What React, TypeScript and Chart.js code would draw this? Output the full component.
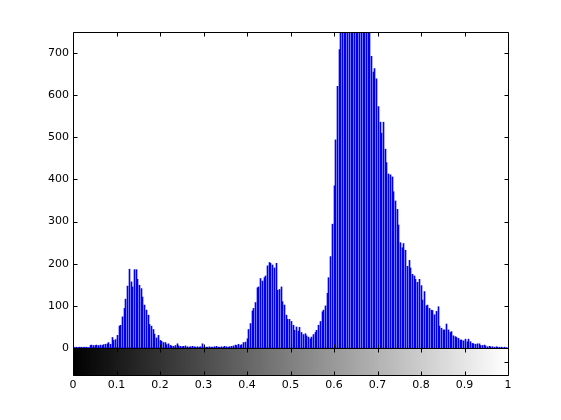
import { useEffect, useRef } from 'react';
import { Chart, registerables } from 'chart.js';

Chart.register(...registerables);

// 256 histogram bins (intensity 0..1), pixel counts
const pixelCounts: number[] = [
  // bins 0-9
  2, 1, 2, 1, 2, 2, 1, 2, 2, 1,
  // bins 10-22
  6, 7, 6, 6, 7, 6, 7, 6, 8, 9, 10, 13, 9,
  // bins 23-57 (first peak)
  25, 18, 20, 30, 52, 54, 74, 94, 116, 147, 187, 157, 145, 186, 186, 163, 149, 141,
  121, 102, 90, 78, 56, 52, 44, 33, 24, 30, 18, 16, 13, 13, 8, 10, 6,
  // bins 58-71
  5, 4, 6, 10, 5, 4, 3, 4, 5, 3, 2, 3, 4, 3,
  // bins 72-97
  2, 3, 2, 3, 10, 3, 2, 2, 3, 2, 2, 3, 4, 2, 2, 3, 2, 4, 3, 2, 3, 4, 5, 7, 6, 9,
  // bins 98-151 (second peak)
  6, 8, 13, 14, 22, 44, 58, 88, 94, 108, 143, 145, 165, 159, 167, 171, 195, 203,
  201, 197, 190, 201, 137, 139, 145, 110, 102, 78, 68, 68, 63, 54, 42, 50, 40, 49,
  37, 32, 34, 29, 26, 22, 26, 32, 37, 42, 54, 63, 86, 90, 100, 130, 167, 217,
  // bins 152-156
  294, 385, 494, 621, 708,
  // bins 157-174 (above the axis limit)
  800, 850, 900, 880, 920, 960, 940, 1000, 980, 950, 970, 930, 900, 910, 860, 840, 820, 780,
  // bins 175-200
  692, 655, 663, 639, 573, 536, 510, 536, 472, 440, 413, 411, 406, 371, 349, 329,
  292, 250, 238, 248, 232, 194, 208, 190, 175, 171,
  // bins 201-251
  163, 156, 163, 148, 114, 134, 100, 102, 94, 90, 89, 79, 87, 98, 52, 47, 43, 43,
  57, 43, 37, 39, 29, 27, 25, 23, 19, 19, 17, 21, 15, 21, 15, 11, 10, 9, 10, 10,
  6, 6, 7, 5, 3, 4, 3, 3, 2, 3, 2, 2, 2,
  // bins 252-255
  1, 2, 1, 1,
];

const xTickValues: number[] = [0, 0.1, 0.2, 0.3, 0.4, 0.5, 0.6, 0.7, 0.8, 0.9, 1];
const xTickLabels: string[] = ['0', '0.1', '0.2', '0.3', '0.4', '0.5', '0.6', '0.7', '0.8', '0.9', '1'];
const yTickValues: number[] = [0, 100, 200, 300, 400, 500, 600, 700];
const yTickLabels: string[] = ['0', '100', '200', '300', '400', '500', '600', '700'];
const yMax = 750;
const colorbarBottom = -64;
const colorbarTick = -32;

const FONT = { family: '"DejaVu Sans", sans-serif', size: 11 };

// snap the 1px stems of the histogram dataset onto whole pixels (crisp lines like the original)
const snapPlugin = {
  id: 'snapStems',
  afterDatasetsUpdate(chart: any) {
    const meta = chart.getDatasetMeta(0);
    meta.data.forEach((el: any) => {
      el.x = Math.floor(el.x) + 0.5;
    });
  },
};

const framePlugin = {
  id: 'matlabFrame',
  afterDraw(chart: any) {
    const { ctx, chartArea: a, scales } = chart;
    const x = scales.x;
    const y = scales.y;
    const T = 4;
    ctx.save();
    ctx.strokeStyle = '#000';
    ctx.lineWidth = 1;
    const L = Math.round(a.left) + 0.5;
    const R = Math.round(a.right) + 0.5;
    const Tp = Math.round(a.top) + 0.5;
    const B = Math.round(a.bottom) + 0.5;
    const Z = Math.round(y.getPixelForValue(0)) + 0.5;
    ctx.beginPath();
    ctx.rect(L, Tp, R - L, B - Tp);
    ctx.moveTo(L, Z);
    ctx.lineTo(R, Z);
    xTickValues.forEach((v) => {
      const px = Math.round(x.getPixelForValue(v)) + 0.5;
      ctx.moveTo(px, Tp);
      ctx.lineTo(px, Tp + T);
      ctx.moveTo(px, Z - T);
      ctx.lineTo(px, Z + T);
      ctx.moveTo(px, B);
      ctx.lineTo(px, B - T);
    });
    [...yTickValues, colorbarTick].forEach((v) => {
      const py = Math.round(y.getPixelForValue(v)) + 0.5;
      ctx.moveTo(L, py);
      ctx.lineTo(L + T, py);
      ctx.moveTo(R, py);
      ctx.lineTo(R - T, py);
    });
    ctx.stroke();
    ctx.restore();
  },
};

export default function App() {
  const ref = useRef<HTMLCanvasElement | null>(null);

  useEffect(() => {
    if (!ref.current) return;
    const binX = pixelCounts.map((_, i) => i / (pixelCounts.length - 1));
    const chart = new Chart(ref.current, {
      type: 'bar',
      data: {
        datasets: [
          {
            label: 'counts',
            data: pixelCounts.map((c, i) => ({ x: binX[i], y: c })) as any,
            backgroundColor: '#0000ee',
            barThickness: 1,
            grouped: false,
            order: 1,
          } as any,
          {
            label: 'colorbar',
            data: pixelCounts.map((_, i) => ({ x: binX[i], y: [colorbarBottom, 0] })) as any,
            backgroundColor: binX.map((v) => {
              const g = Math.round(v * 255);
              return `rgb(${g},${g},${g})`;
            }),
            barThickness: 2.2,
            grouped: false,
            order: 2,
          } as any,
        ],
      },
      options: {
        animation: false,
        responsive: false,
        layout: { padding: { top: 32, right: 53, left: 0, bottom: 0 } },
        plugins: { legend: { display: false }, tooltip: { enabled: false } },
        scales: {
          x: {
            type: 'linear',
            min: 0,
            max: 1,
            offset: false,
            grid: { display: false, drawTicks: false },
            border: { display: false },
            afterBuildTicks: (s: any) => {
              s.ticks = xTickValues.map((v) => ({ value: v }));
            },
            afterFit: (s: any) => {
              s.height = 45;
            },
            ticks: {
              color: '#000',
              font: FONT,
              padding: 4,
              maxRotation: 0,
              autoSkip: false,
              callback: (v: any) => {
                const idx = xTickValues.findIndex((t) => Math.abs(t - Number(v)) < 1e-9);
                return idx >= 0 ? xTickLabels[idx] : '';
              },
            },
          },
          y: {
            type: 'linear',
            min: colorbarBottom,
            max: yMax,
            grid: { display: false, drawTicks: false },
            border: { display: false },
            afterBuildTicks: (s: any) => {
              s.ticks = yTickValues.map((v) => ({ value: v }));
            },
            afterFit: (s: any) => {
              s.width = 73;
            },
            ticks: {
              color: '#000',
              font: FONT,
              padding: 4,
              autoSkip: false,
              callback: (v: any) => {
                const idx = yTickValues.indexOf(Number(v));
                return idx >= 0 ? yTickLabels[idx] : '';
              },
            },
          },
        },
      } as any,
      plugins: [snapPlugin, framePlugin],
    });
    return () => chart.destroy();
  }, []);

  return (
    <div style={{ position: 'fixed', left: 0, top: 0, width: 561, height: 420, background: '#fff' }}>
      <canvas ref={ref} width={561} height={420} style={{ display: 'block' }} />
    </div>
  );
}
